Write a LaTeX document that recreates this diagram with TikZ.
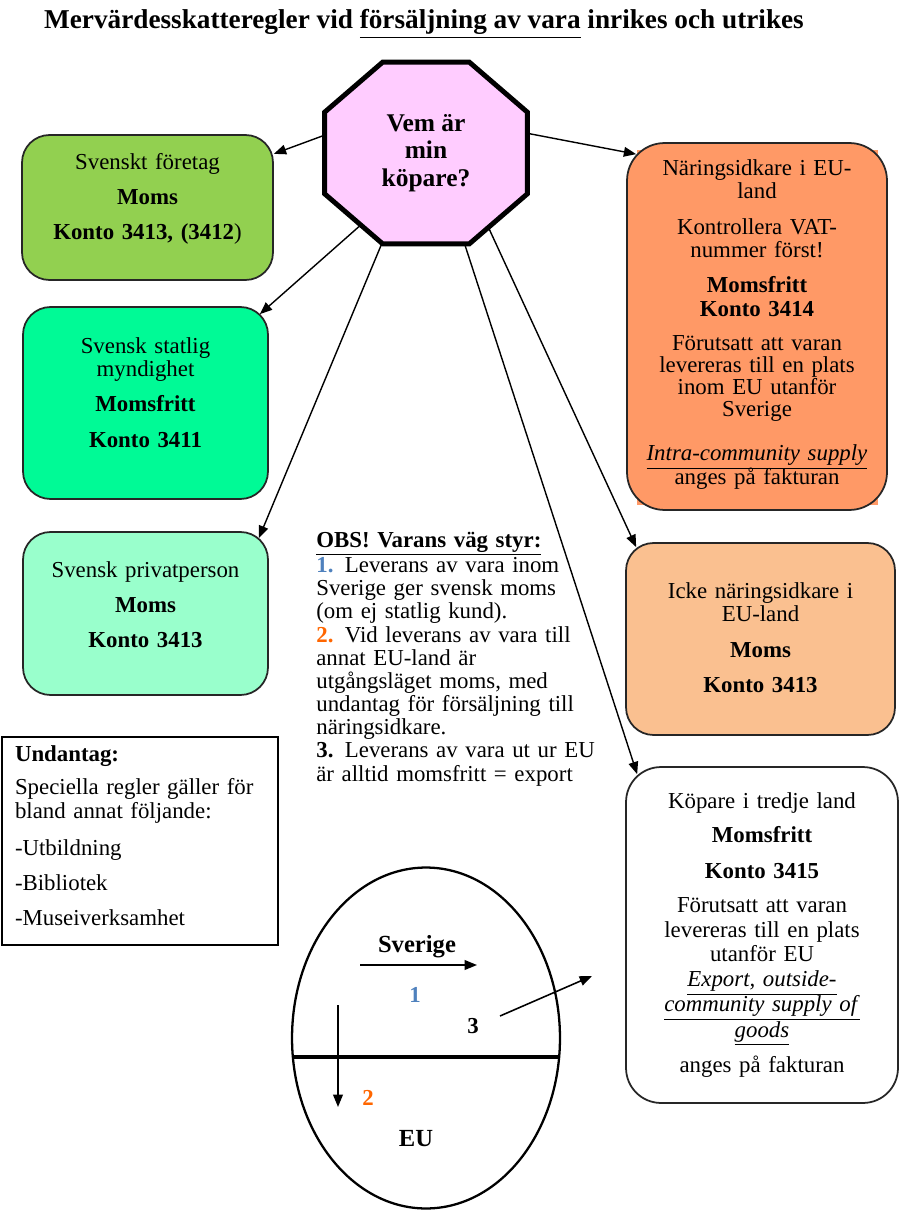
\documentclass[tikz,border=0pt]{standalone}
\usepackage{fontspec}
\setmainfont{Liberation Serif}
\usetikzlibrary{arrows.meta,backgrounds}

\definecolor{foretag}{RGB}{146,208,80}
\definecolor{statlig}{RGB}{0,250,150}
\definecolor{privat}{RGB}{153,255,204}
\definecolor{naring}{RGB}{255,153,102}
\definecolor{icke}{RGB}{250,192,144}
\definecolor{fraga}{RGB}{255,204,255}
\definecolor{nrblue}{RGB}{79,129,189}
\definecolor{nrorange}{RGB}{255,102,0}

\tikzset{
  every node/.style={font=\fontsize{13}{13.5}\selectfont},
  kund/.style={draw=black!85,line width=1pt,rounded corners=0.55cm,align=center,inner sep=0pt},
  pil/.style={line width=0.8pt,-{Triangle[length=7pt,width=5.5pt]}},
  stor/.style={font=\fontsize{14}{15}\selectfont\bfseries},
  siffra/.style={font=\fontsize{13}{14}\selectfont\bfseries},
}
\newcommand{\lyft}[1]{\rule[-#1]{0pt}{0pt}}

\begin{document}
\begin{tikzpicture}[x=0.02cm,y=-0.02cm]
\useasboundingbox (0,0) rectangle (900,1220);

\node[anchor=base,font=\fontsize{15.5}{16}\selectfont\bfseries] (rubrik) at (424,29)
  {Mervärdesskatteregler vid \underline{försäljning av vara} inrikes och utrikes};

% fragan i mitten
\node[minimum width=4.04cm,minimum height=3.62cm,inner sep=0pt,
  font=\fontsize{14.5}{15.5}\selectfont\bfseries,align=center] (oct) at (426,153)
  {Vem är\\min\\köpare?};

% svenska kunder
\node[kund,fill=foretag,minimum width=5.02cm,minimum height=2.9cm,text width=4.8cm] (sf) at (147.5,207.5)
  {Svenskt företag\\[6.5pt]\textbf{Moms}\\[6.5pt]\textbf{Konto 3413, (3412}){\lyft{12.9pt}}};
\node[kund,fill=statlig,minimum width=4.9cm,minimum height=3.84cm,text width=4.6cm] (sm) at (145.5,403)
  {Svensk statlig\\myndighet\\[6.5pt]\textbf{Momsfritt}\\[6.5pt]\textbf{Konto 3411}\lyft{12.3pt}};
\node[kund,fill=privat,minimum width=4.9cm,minimum height=3.26cm,text width=4.6cm] (sp) at (145.5,613.5)
  {Svensk privatperson\\[6.5pt]\textbf{Moms}\\[6.5pt]\textbf{Konto 3413}\lyft{10pt}};

% kunder utomlands
\fill[naring] (637,150) rectangle (878,505);
\node[kund,fill=naring,rounded corners=0.75cm,minimum width=5.2cm,minimum height=7.34cm,text width=4.9cm] (eu) at (757,326.5)
  {Näringsidkare i EU-\\land\\[6.5pt]Kontrollera VAT-\\nummer först!\\[6.5pt]\textbf{Momsfritt}\\\textbf{Konto 3414}\\[6pt]
   Förutsatt att varan\\[-1pt]levereras till en plats\\[-1pt]inom EU utanför\\[-1pt]Sverige\\[11.5pt]
   \underline{\textit{Intra-community supply}}\\[-1.5pt]anges på fakturan\lyft{5pt}};
\node[kund,fill=icke,minimum width=5.38cm,minimum height=3.84cm,text width=5cm] (ic) at (760.5,639)
  {Icke näringsidkare i\\EU-land\\[6.5pt]\textbf{Moms}\\[6.5pt]\textbf{Konto 3413}\lyft{2pt}};
\node[kund,rounded corners=0.7cm,minimum width=5.44cm,minimum height=6.72cm,text width=5.1cm] (tl) at (762,935)
  {Köpare i tredje land\\[6pt]\textbf{Momsfritt}\\[7pt]\textbf{Konto 3415}\\[6pt]
   Förutsatt att varan\\[0.7pt]levereras till en plats\\utanför EU\\[0.7pt]
   \underline{\textit{Export, outside-}}\\[-0.5pt]\underline{\textit{community supply of}}\\[-0.5pt]\underline{\textit{goods}}\\[5pt]
   anges på fakturan};

% pilar fran fragan, under attkanten
\begin{pgfonlayer}{background}
\draw[pil] (oct.170) -- (sf.23);
\draw[pil] ([shift={(-46,55)}]oct.center) -- ([shift={(-9,8)}]sm.north east);
\draw[pil] (oct.244) -- ([shift={(-10,7)}]sp.north east);
\draw[pil] (oct.11) -- ([shift={(10,12)}]eu.north west);
\draw[pil] ([shift={(53,54)}]oct.center) -- ([shift={(11,5)}]ic.north west);
\draw[pil] (oct.293.3) -- ([shift={(12,8)}]tl.north west);
\draw[line width=2.8pt,fill=fraga,line join=miter]
  ([xshift=1.16cm]oct.north west) -- ([xshift=-1.16cm]oct.north east) --
  ([yshift=-1cm]oct.north east) -- ([yshift=1cm]oct.south east) --
  ([xshift=-1.16cm]oct.south east) -- ([xshift=1.16cm]oct.south west) --
  ([yshift=1cm]oct.south west) -- ([yshift=-1cm]oct.north west) -- cycle;
\end{pgfonlayer}

% OBS-texten
\node[anchor=base west,text width=6cm,align=left,inner sep=0pt,font=\fontsize{13}{13.2}\selectfont] (obs) at (316,547)
  {\textbf{\underline{OBS! Varans väg styr:}}\\
   \textbf{\color{nrblue}1.}\hspace{0.5em}Leverans av vara inom\\
   Sverige ger svensk moms\\
   (om ej statlig kund).\\
   \textbf{\color{nrorange}2.}\hspace{0.5em}Vid leverans av vara till\\
   annat EU-land är\\
   utgångsläget moms, med\\
   undantag för försäljning till\\
   näringsidkare.\\
   \textbf{3.}\hspace{0.5em}Leverans av vara ut ur EU\\
   är alltid momsfritt = export};

\node[draw,line width=1pt,minimum width=5.52cm,minimum height=4.16cm,text width=5cm,align=left,inner sep=0pt] (ud) at (140,841)
  {\textbf{Undantag:}\\[5.3pt]Speciella regler gäller för\\bland annat följande:\\[7.5pt]
   -Utbildning\\[6.5pt]-Bibliotek\\[6.5pt]-Museiverksamhet\lyft{6pt}};

% Sverige och EU
\draw[line width=1.3pt] (426,1038) ellipse [x radius=2.68cm,y radius=3.41cm];
\draw[line width=2.2pt] (292.5,1057) -- (559.5,1057);
\node[stor,anchor=base] (sverige) at (417,952) {Sverige};
\node[stor,anchor=base] (eul) at (416,1146) {EU};
\node[siffra,anchor=base,text=nrblue] (n1) at (415,1002) {1};
\node[siffra,anchor=base,text=nrorange] (n2) at (368,1105) {2};
\node[siffra,anchor=base] (n3) at (473,1033) {3};
\draw[pil,line width=0.9pt] (360,965) -- (477,965);
\draw[pil,line width=0.9pt] (338,1005) -- (338,1107);
\draw[pil,line width=0.9pt] (500,1016) -- (592,976);
\end{tikzpicture}
\end{document}
